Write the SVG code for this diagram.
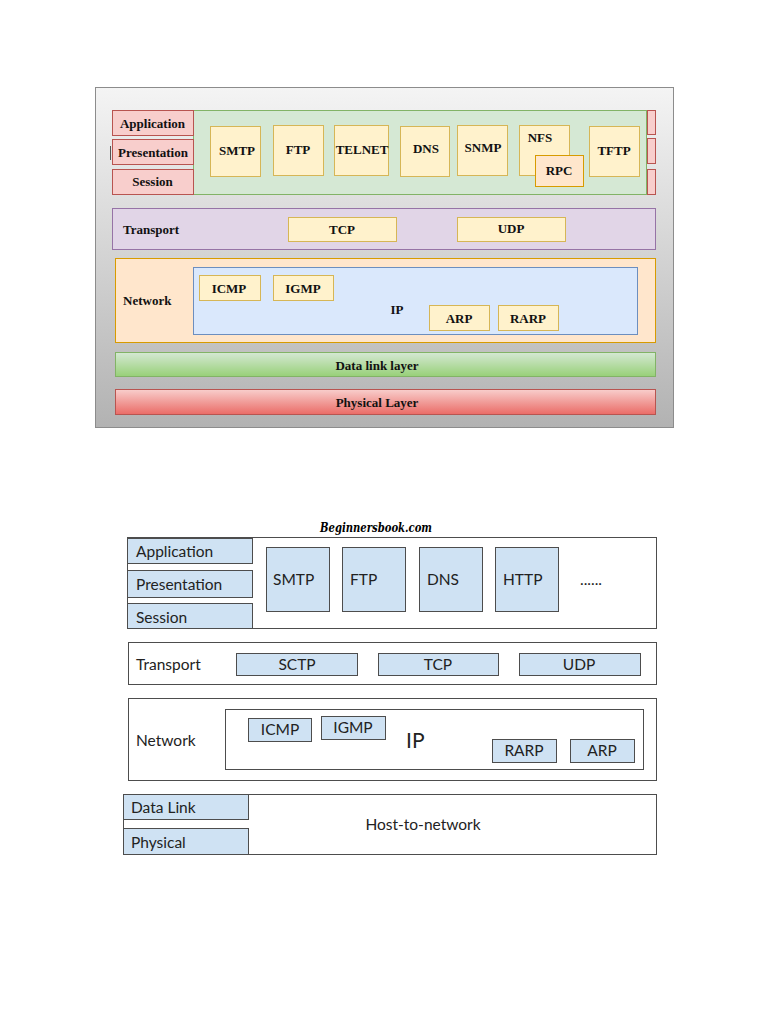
<svg xmlns="http://www.w3.org/2000/svg" width="768" height="1024" viewBox="0 0 768 1024">
<defs>
<linearGradient id="gFrame" x1="0" y1="0" x2="0" y2="1"><stop offset="0" stop-color="#f4f4f4"/><stop offset="1" stop-color="#b2b2b2"/></linearGradient>
<linearGradient id="gDL" x1="0" y1="0" x2="0" y2="1"><stop offset="0" stop-color="#d5e8d4"/><stop offset="1" stop-color="#97d077"/></linearGradient>
<linearGradient id="gPH" x1="0" y1="0" x2="0" y2="1"><stop offset="0" stop-color="#f8cecc"/><stop offset="1" stop-color="#ea6b66"/></linearGradient>
<style>
.t{font-family:"Liberation Serif","Times New Roman",serif;font-weight:bold;font-size:13px;fill:#111;text-anchor:middle}
.tl{text-anchor:start}
.red{fill:#f8cecc;stroke:#b85450;stroke-width:1}
.yel{fill:#fff2cc;stroke:#d6b656;stroke-width:1}
.org{fill:#ffe6cc;stroke:#d79b00;stroke-width:1}
.b{font-family:Lato,"Open Sans",sans-serif;font-size:15.5px;fill:#222}
.bc{text-anchor:middle}
.big{font-size:21px}
.bl{fill:#cfe2f3;stroke:#4d4d4d;stroke-width:1}
.box{fill:#fff;stroke:#4d4d4d;stroke-width:1}
</style>
</defs>
<rect width="768" height="1024" fill="#fff"/>

<!-- Upper diagram -->
<g id="frame1"><rect x="95.5" y="87.5" width="578" height="340" fill="url(#gFrame)" stroke="#8c8c8c"/></g>
<g id="app-green"><rect x="193.5" y="110.5" width="453" height="84" fill="#d5e8d4" stroke="#82b366"/></g>
<g id="application1"><rect class="red" x="112.5" y="110.5" width="81" height="25"/><text class="t" x="152.5" y="128">Application</text></g>
<g id="presentation1"><rect class="red" x="112.5" y="139.5" width="81" height="25"/><text class="t" x="153" y="157">Presentation</text></g>
<path d="M110.5 146 V160" stroke="#555" stroke-width="1"/>
<g id="session1"><rect class="red" x="112.5" y="169.5" width="81" height="25"/><text class="t" x="152.5" y="186">Session</text></g>
<g id="sideRed"><rect class="red" x="647.5" y="110.5" width="8" height="24"/><rect class="red" x="647.5" y="138.5" width="8" height="25"/><rect class="red" x="647.5" y="169.5" width="8" height="25"/></g>
<g id="smtp1"><rect class="yel" x="210.5" y="126.5" width="50" height="50"/><text class="t" x="237" y="155">SMTP</text></g>
<g id="ftp1"><rect class="yel" x="273.5" y="125.5" width="50" height="50"/><text class="t" x="298" y="154">FTP</text></g>
<g id="telnet1"><rect class="yel" x="334.5" y="125.5" width="54" height="50"/><text class="t" x="362" y="154">TELNET</text></g>
<g id="dns1"><rect class="yel" x="400.5" y="126.5" width="49" height="50"/><text class="t" x="426" y="153">DNS</text></g>
<g id="snmp1"><rect class="yel" x="457.5" y="125.5" width="50" height="50"/><text class="t" x="483" y="152">SNMP</text></g>
<g id="nfs1"><rect class="yel" x="519.5" y="125.5" width="50" height="50"/><text class="t" x="540" y="142">NFS</text></g>
<g id="rpc1"><rect class="org" x="535.5" y="155.5" width="48" height="31"/><text class="t" x="559" y="175">RPC</text></g>
<g id="tftp1"><rect class="yel" x="589.5" y="126.5" width="50" height="50"/><text class="t" x="614" y="155">TFTP</text></g>

<g id="transport1"><rect x="112.5" y="208.5" width="543" height="41" fill="#e1d5e7" stroke="#9673a6"/><text class="t tl" x="123" y="234">Transport</text></g>
<g id="tcp1"><rect class="yel" x="288.5" y="217.5" width="108" height="24"/><text class="t" x="342" y="234">TCP</text></g>
<g id="udp1"><rect class="yel" x="457.5" y="217.5" width="108" height="24"/><text class="t" x="511" y="233">UDP</text></g>

<g id="network1"><rect class="org" x="115.5" y="258.5" width="540" height="84"/><text class="t tl" x="123" y="305">Network</text></g>
<g id="ip1"><rect x="193.5" y="267.5" width="444" height="67" fill="#dae8fc" stroke="#6c8ebf"/><text class="t" x="397" y="314">IP</text></g>
<g id="icmp1"><rect class="yel" x="199.5" y="275.5" width="61" height="25"/><text class="t" x="229" y="293">ICMP</text></g>
<g id="igmp1"><rect class="yel" x="273.5" y="275.5" width="60" height="25"/><text class="t" x="303" y="293">IGMP</text></g>
<g id="arp1"><rect class="yel" x="429.5" y="305.5" width="60" height="25"/><text class="t" x="459" y="323">ARP</text></g>
<g id="rarp1"><rect class="yel" x="498.5" y="305.5" width="60" height="25"/><text class="t" x="528" y="323">RARP</text></g>

<g id="datalink1"><rect x="115.5" y="352.5" width="540" height="24" fill="url(#gDL)" stroke="#82b366"/><text class="t" x="377" y="370">Data link layer</text></g>
<g id="physical1"><rect x="115.5" y="389.5" width="540" height="25" fill="url(#gPH)" stroke="#b85450"/><text class="t" x="377" y="407">Physical Layer</text></g>

<!-- Lower diagram -->
<text x="320" y="532" font-family="'DejaVu Serif',serif" font-size="13" font-weight="bold" font-style="italic" fill="#000" textLength="112" lengthAdjust="spacingAndGlyphs">Beginnersbook.com</text>

<g id="appContainer"><rect class="box" x="127.5" y="537.5" width="529" height="91"/></g>
<g id="application2"><rect class="bl" x="127.5" y="538.5" width="125" height="25"/><text class="b" x="136" y="557">Application</text></g>
<g id="presentation2"><rect class="bl" x="127.5" y="570.5" width="125" height="27"/><text class="b" x="136" y="590">Presentation</text></g>
<g id="session2"><rect class="bl" x="127.5" y="603.5" width="125" height="25"/><text class="b" x="136" y="623">Session</text></g>
<g id="smtp2"><rect class="bl" x="266.5" y="547.5" width="63" height="64"/><text class="b" x="273" y="585">SMTP</text></g>
<g id="ftp2"><rect class="bl" x="342.5" y="547.5" width="63" height="64"/><text class="b" x="350" y="585">FTP</text></g>
<g id="dns2"><rect class="bl" x="419.5" y="547.5" width="63" height="64"/><text class="b" x="427" y="585">DNS</text></g>
<g id="http2"><rect class="bl" x="495.5" y="547.5" width="63" height="64"/><text class="b" x="503" y="585">HTTP</text></g>
<text class="b" x="580" y="585">......</text>

<g id="transport2"><rect class="box" x="128.5" y="642.5" width="528" height="42"/><text class="b" x="136" y="670">Transport</text></g>
<g id="sctp2"><rect class="bl" x="236.5" y="653.5" width="121" height="22"/><text class="b bc" x="297" y="670">SCTP</text></g>
<g id="tcp2"><rect class="bl" x="378.5" y="653.5" width="120" height="22"/><text class="b bc" x="438" y="670">TCP</text></g>
<g id="udp2"><rect class="bl" x="519.5" y="653.5" width="121" height="22"/><text class="b bc" x="579" y="670">UDP</text></g>

<g id="network2"><rect class="box" x="128.5" y="698.5" width="528" height="82"/><text class="b" x="136" y="746">Network</text></g>
<g id="ip2"><rect class="box" x="225.5" y="709.5" width="418" height="60"/><text class="b big" x="406" y="748">IP</text></g>
<g id="icmp2"><rect class="bl" x="248.5" y="718.5" width="63" height="23"/><text class="b bc" x="280" y="735">ICMP</text></g>
<g id="igmp2"><rect class="bl" x="321.5" y="716.5" width="64" height="23"/><text class="b bc" x="353" y="733">IGMP</text></g>
<g id="rarp2"><rect class="bl" x="492.5" y="739.5" width="64" height="23"/><text class="b bc" x="524" y="756">RARP</text></g>
<g id="arp2"><rect class="bl" x="570.5" y="739.5" width="64" height="23"/><text class="b bc" x="602" y="756">ARP</text></g>

<g id="hostToNetwork"><rect class="box" x="123.5" y="794.5" width="533" height="60"/><text class="b bc" x="423" y="830">Host-to-network</text></g>
<g id="datalink2"><rect class="bl" x="123.5" y="794.5" width="125" height="25"/><text class="b" x="131" y="813">Data Link</text></g>
<g id="physical2"><rect class="bl" x="123.5" y="828.5" width="125" height="26"/><text class="b" x="131" y="848">Physical</text></g>
</svg>
